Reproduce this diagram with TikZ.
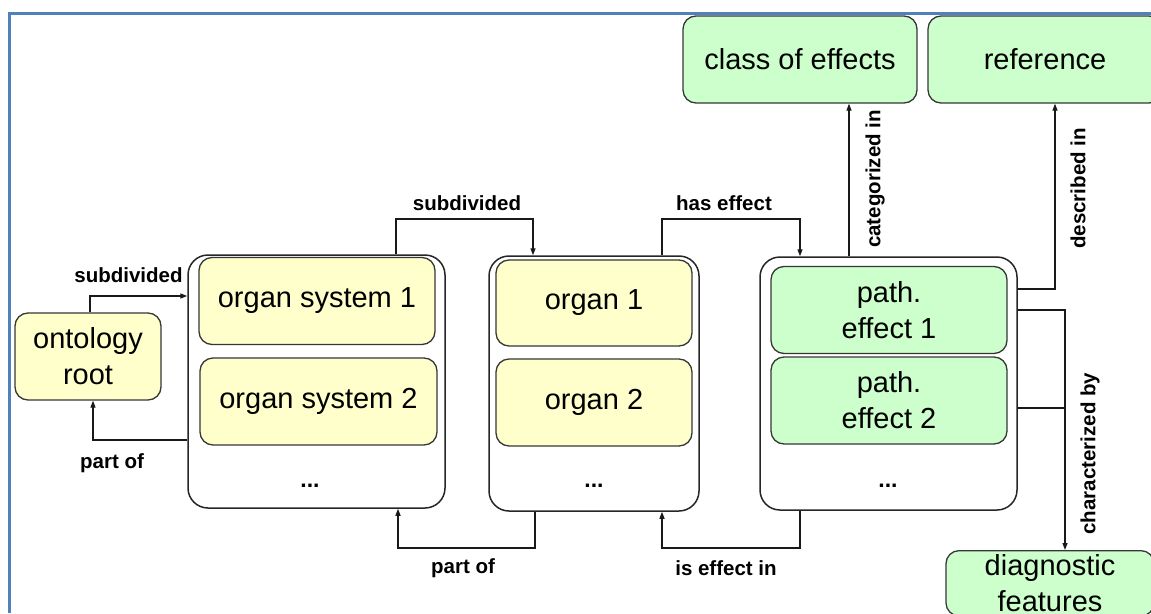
\documentclass[tikz,border=0pt]{standalone}
\usepackage{fontspec}
\setmainfont{Liberation Sans}
\usetikzlibrary{arrows.meta}
\definecolor{frameblue}{RGB}{79,129,189}
\definecolor{boxyellow}{RGB}{255,255,204}
\definecolor{boxgreen}{RGB}{204,255,204}
\definecolor{edgegray}{RGB}{55,55,55}

\begin{document}
\begin{tikzpicture}[x=1pt,y=-1pt,
  entity/.style={draw=edgegray, line width=1.3pt, rounded corners=13pt, align=center,
    inner sep=0pt, font=\fontsize{29}{36}\selectfont},
  yellowbox/.style={entity, fill=boxyellow},
  greenbox/.style={entity, fill=boxgreen},
  group/.style={draw=black!85, line width=1.5pt, rounded corners=20pt, fill=white, inner sep=0pt},
  dots/.style={font=\bfseries\fontsize{23}{26}\selectfont},
  rel/.style={font=\bfseries\fontsize{20.5}{24}\selectfont, inner sep=0pt},
  line/.style={draw=black!90, line width=1.3pt},
  link/.style={line, -{Triangle[length=7pt,width=5pt]}},
]
\useasboundingbox (0,0) rectangle (1151,613);
\clip (0,0) rectangle (1151,613);
\fill[white] (0,0) rectangle (1151,613);

% frame
\draw[frameblue, line width=3pt] (9.5,613) -- (9.5,13.5) -- (1151,13.5);

% top-level entity
\node[yellowbox, minimum width=146pt, minimum height=87pt] (root) at (88,356.5) {ontology\\root};

% groups
\node[group, minimum width=257pt, minimum height=253pt] (c1) at (316.5,381.5) {};
\node[group, minimum width=210pt, minimum height=255pt] (c2) at (594,383.5) {};
\node[group, minimum width=257pt, minimum height=253pt] (c3) at (888.5,383.5) {};

% members
\node[yellowbox, minimum width=236pt, minimum height=87pt] (os1) at (317,301) {organ system 1};
\node[yellowbox, minimum width=237pt, minimum height=87pt] (os2) at (318.5,401.5) {organ system 2};
\node[dots] (c1d) at (310,486) {...};

\node[yellowbox, minimum width=196pt, minimum height=86pt] (o1) at (594,303) {organ 1};
\node[yellowbox, minimum width=196pt, minimum height=87pt] (o2) at (594,402.5) {organ 2};
\node[dots] (c2d) at (594,486) {...};

\node[greenbox, minimum width=236pt, minimum height=87pt] (pe1) at (889,310) {path.\\effect 1};
\node[greenbox, minimum width=236pt, minimum height=87pt] (pe2) at (889,400.5) {path.\\effect 2};
\node[dots] (c3d) at (888,486) {...};

% related entities
\node[greenbox, minimum width=234pt, minimum height=87pt] (coe) at (800,59.5) {class of effects};
\node[greenbox, minimum width=234pt, minimum height=87pt] (ref) at (1045,59.5) {reference};
\node[greenbox, minimum width=208pt, anchor=north, inner ysep=4pt] (diag) at (1050,550) {diagnostic\\features};

% relations
\draw[link] (root.north -| 90,0) |- (c1.west |- 0,296);
\node[rel] (lsub1) at (128.5,275) {subdivided};

\draw[link] (c1.west |- 0,440) -| (root.south -| 93,0);
\node[rel] (lpart1) at (112,463) {part of};

\draw[link] (c1.north -| 396,0) |- (533,219) -- (c2.north -| 533,0);
\node[rel] (lsub2) at (467,203) {subdivided};

\draw[link] (c2.north -| 662,0) |- (800,219) -- (c3.north -| 800,0);
\node[rel] (lhas) at (724,203) {has effect};

\draw[link] (c2.south -| 535,0) |- (398,548) -- (c1.south -| 398,0);
\node[rel] (lpart2) at (463,568) {part of};

\draw[link] (c3.south -| 800,0) |- (662,548) -- (c2.south -| 662,0);
\node[rel] (lisin) at (726,568) {is effect in};

\draw[link] (c3.north -| 849,0) -- (coe.south -| 849,0);
\node[rel, rotate=90] (lcat) at (875,179) {categorized in};

\draw[link] (c3.east |- 0,289) -| (ref.south -| 1055,0);
\node[rel, rotate=90] (ldesc) at (1078,188.5) {described in};

\coordinate (charjoin) at (1065,408);
\draw[link] (c3.east |- 0,310) -| (diag.north -| charjoin);
\draw[line] (c3.east |- charjoin) -- (charjoin);
\node[rel, rotate=90] (lchar) at (1090,453.5) {characterized by};
\end{tikzpicture}
\end{document}
